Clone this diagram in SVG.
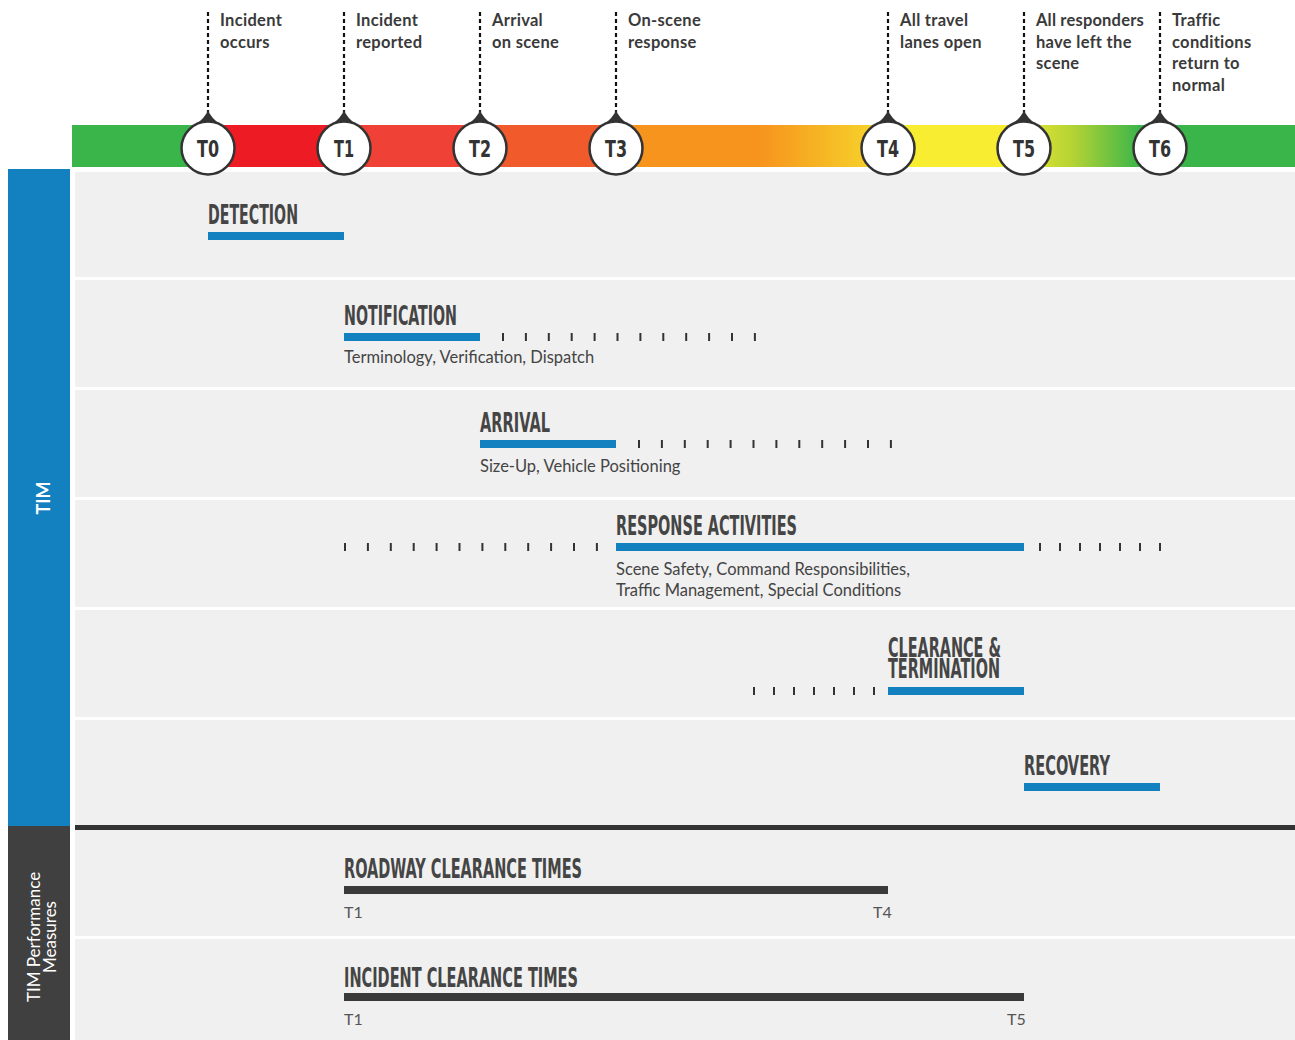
<svg xmlns="http://www.w3.org/2000/svg" width="1295" height="1040" viewBox="0 0 1295 1040">
<defs>
<linearGradient id="bar" gradientUnits="userSpaceOnUse" x1="72" y1="0" x2="1295" y2="0">
<stop offset="0" stop-color="#3ab54a"/>
<stop offset="0.1112" stop-color="#3ab54a"/>
<stop offset="0.1112" stop-color="#ed1c24"/>
<stop offset="0.2224" stop-color="#ed1c24"/>
<stop offset="0.2224" stop-color="#ef4136"/>
<stop offset="0.3336" stop-color="#ef4136"/>
<stop offset="0.3336" stop-color="#f15a2b"/>
<stop offset="0.4448" stop-color="#f15a2b"/>
<stop offset="0.4448" stop-color="#f7941d"/>
<stop offset="0.5626" stop-color="#f7941d"/>
<stop offset="0.6525" stop-color="#f6d02a"/>
<stop offset="0.6680" stop-color="#f9ed32"/>
<stop offset="0.7630" stop-color="#f9ed32"/>
<stop offset="0.8180" stop-color="#b5d334"/>
<stop offset="0.8733" stop-color="#3ab54a"/>
<stop offset="1" stop-color="#3ab54a"/>
</linearGradient>
<style>
.lbl{font-family:Lato,"Liberation Sans",sans-serif;font-weight:bold;font-size:16.5px;letter-spacing:0.3px;fill:#3a3a3a}
.dash{stroke:#111;stroke-width:2.2;stroke-dasharray:4 3;fill:none}
.pin{fill:#333}
.ring{fill:#fff;stroke:#333;stroke-width:2.5}
.tn{font-family:"DejaVu Sans Condensed","DejaVu Sans",sans-serif;font-stretch:condensed;font-weight:bold;font-size:23px;fill:#333;text-anchor:middle}
.panel{fill:#f0f0f0}
.head{font-family:"DejaVu Sans Condensed","DejaVu Sans",sans-serif;font-stretch:condensed;font-weight:bold;font-size:26px;fill:#454545}
.sub{font-family:Lato,"Liberation Sans",sans-serif;font-size:16.5px;fill:#444}
.blue{fill:#1380c0}
.dark{fill:#3a3a3a}
.tick{stroke:#333;stroke-width:8;stroke-dasharray:2 20.9;fill:none}
.tick2{stroke:#333;stroke-width:8;stroke-dasharray:2 18;fill:none}
.side{font-family:Lato,"Liberation Sans",sans-serif;fill:#fff;text-anchor:middle}
.tl{font-family:Lato,"Liberation Sans",sans-serif;font-size:16px;fill:#555}
</style>
</defs>
<rect width="1295" height="1040" fill="#fff"/>

<!-- background panels -->
<g id="panels">
<rect class="panel" x="75" y="172" width="1220" height="105"/>
<rect class="panel" x="75" y="280" width="1220" height="107"/>
<rect class="panel" x="75" y="390" width="1220" height="107"/>
<rect class="panel" x="75" y="500" width="1220" height="107"/>
<rect class="panel" x="75" y="610" width="1220" height="107"/>
<rect class="panel" x="75" y="720" width="1220" height="105"/>
<rect x="75" y="825" width="1220" height="5" fill="#333"/>
<rect class="panel" x="75" y="830" width="1220" height="106"/>
<rect class="panel" x="75" y="939" width="1220" height="101"/>
</g>

<!-- side bars -->
<g id="side-tim">
<rect class="blue" x="8" y="169" width="62" height="657"/>
<text class="side" font-size="18" font-weight="bold" transform="translate(49.5,498) rotate(-90)">TIM</text>
</g>
<g id="side-measures">
<rect x="8" y="826" width="62" height="214" fill="#404040"/>
<text class="side" font-size="17" transform="translate(39.5,937) rotate(-90)">TIM Performance</text>
<text class="side" font-size="17" transform="translate(56,937) rotate(-90)">Measures</text>
</g>

<!-- gradient timeline bar -->
<rect id="timeline" x="72" y="125" width="1223" height="42" fill="url(#bar)"/>

<!-- connectors: dotted leader lines -->
<g id="connectors">
<line class="dash" x1="208" y1="12" x2="208" y2="112"/>
<line class="dash" x1="344" y1="12" x2="344" y2="112"/>
<line class="dash" x1="480" y1="12" x2="480" y2="112"/>
<line class="dash" x1="616" y1="12" x2="616" y2="112"/>
<line class="dash" x1="888" y1="12" x2="888" y2="112"/>
<line class="dash" x1="1024" y1="12" x2="1024" y2="112"/>
<line class="dash" x1="1160" y1="12" x2="1160" y2="112"/>
</g>

<!-- markers -->
<g id="T0">
<path class="pin" d="M208,110 Q205,118 196,124 L220,124 Q211,118 208,110Z"/>
<circle class="ring" cx="208" cy="148" r="26.5"/>
<text class="tn" x="208" y="157" textLength="22" lengthAdjust="spacingAndGlyphs">T0</text>
<text class="lbl" x="220" y="26">Incident</text>
<text class="lbl" x="220" y="47.5">occurs</text>
</g>
<g id="T1">
<path class="pin" d="M344,110 Q341,118 332,124 L356,124 Q347,118 344,110Z"/>
<circle class="ring" cx="344" cy="148" r="26.5"/>
<text class="tn" x="344" y="157" textLength="20" lengthAdjust="spacingAndGlyphs">T1</text>
<text class="lbl" x="356" y="26">Incident</text>
<text class="lbl" x="356" y="47.5">reported</text>
</g>
<g id="T2">
<path class="pin" d="M480,110 Q477,118 468,124 L492,124 Q483,118 480,110Z"/>
<circle class="ring" cx="480" cy="148" r="26.5"/>
<text class="tn" x="480" y="157" textLength="22" lengthAdjust="spacingAndGlyphs">T2</text>
<text class="lbl" x="492" y="26">Arrival</text>
<text class="lbl" x="492" y="47.5">on scene</text>
</g>
<g id="T3">
<path class="pin" d="M616,110 Q613,118 604,124 L628,124 Q619,118 616,110Z"/>
<circle class="ring" cx="616" cy="148" r="26.5"/>
<text class="tn" x="616" y="157" textLength="22" lengthAdjust="spacingAndGlyphs">T3</text>
<text class="lbl" x="628" y="26">On-scene</text>
<text class="lbl" x="628" y="47.5">response</text>
</g>
<g id="T4">
<path class="pin" d="M888,110 Q885,118 876,124 L900,124 Q891,118 888,110Z"/>
<circle class="ring" cx="888" cy="148" r="26.5"/>
<text class="tn" x="888" y="157" textLength="22" lengthAdjust="spacingAndGlyphs">T4</text>
<text class="lbl" x="900" y="26">All travel</text>
<text class="lbl" x="900" y="47.5">lanes open</text>
</g>
<g id="T5">
<path class="pin" d="M1024,110 Q1021,118 1012,124 L1036,124 Q1027,118 1024,110Z"/>
<circle class="ring" cx="1024" cy="148" r="26.5"/>
<text class="tn" x="1024" y="157" textLength="22" lengthAdjust="spacingAndGlyphs">T5</text>
<text class="lbl" x="1036" y="26" textLength="108">All responders</text>
<text class="lbl" x="1036" y="47.5">have left the</text>
<text class="lbl" x="1036" y="69">scene</text>
</g>
<g id="T6">
<path class="pin" d="M1160,110 Q1157,118 1148,124 L1172,124 Q1163,118 1160,110Z"/>
<circle class="ring" cx="1160" cy="148" r="26.5"/>
<text class="tn" x="1160" y="157" textLength="22" lengthAdjust="spacingAndGlyphs">T6</text>
<text class="lbl" x="1172" y="26">Traffic</text>
<text class="lbl" x="1172" y="47.5">conditions</text>
<text class="lbl" x="1172" y="69">return to</text>
<text class="lbl" x="1172" y="90.5">normal</text>
</g>

<!-- rows -->
<g id="detection">
<text class="head" x="208" y="224" textLength="90" lengthAdjust="spacingAndGlyphs">DETECTION</text>
<rect class="blue" x="208" y="232" width="136" height="8"/>
</g>
<g id="notification">
<text class="head" x="344" y="325" textLength="113" lengthAdjust="spacingAndGlyphs">NOTIFICATION</text>
<rect class="blue" x="344" y="333" width="136" height="8"/>
<line class="tick" x1="502" y1="337" x2="756" y2="337"/>
<text class="sub" x="344" y="363">Terminology, Verification, Dispatch</text>
</g>
<g id="arrival">
<text class="head" x="480" y="432" textLength="70" lengthAdjust="spacingAndGlyphs">ARRIVAL</text>
<rect class="blue" x="480" y="440" width="136" height="8"/>
<line class="tick" x1="638" y1="444" x2="892" y2="444"/>
<text class="sub" x="480" y="472">Size-Up, Vehicle Positioning</text>
</g>
<g id="response">
<text class="head" x="616" y="535" textLength="181" lengthAdjust="spacingAndGlyphs">RESPONSE ACTIVITIES</text>
<line class="tick" x1="344" y1="547" x2="598" y2="547"/>
<rect class="blue" x="616" y="543" width="408" height="8"/>
<line class="tick2" x1="1039" y1="547" x2="1162" y2="547"/>
<text class="sub" x="616" y="575">Scene Safety, Command Responsibilities,</text>
<text class="sub" x="616" y="596">Traffic Management, Special Conditions</text>
</g>
<g id="clearance">
<text class="head" x="888" y="657" font-size="24.5" textLength="113" lengthAdjust="spacingAndGlyphs">CLEARANCE &amp;</text>
<text class="head" x="888" y="678" font-size="24.5" textLength="112" lengthAdjust="spacingAndGlyphs">TERMINATION</text>
<line class="tick2" x1="753" y1="691" x2="876" y2="691"/>
<rect class="blue" x="888" y="687" width="136" height="8"/>
</g>
<g id="recovery">
<text class="head" x="1024" y="775" textLength="86" lengthAdjust="spacingAndGlyphs">RECOVERY</text>
<rect class="blue" x="1024" y="783" width="136" height="8"/>
</g>
<g id="roadway">
<text class="head" x="344" y="878" textLength="238" lengthAdjust="spacingAndGlyphs">ROADWAY CLEARANCE TIMES</text>
<rect class="dark" x="344" y="886" width="544" height="8"/>
<text class="tl" x="344" y="918">T1</text>
<text class="tl" x="873" y="918">T4</text>
</g>
<g id="incident">
<text class="head" x="344" y="987" textLength="234" lengthAdjust="spacingAndGlyphs">INCIDENT CLEARANCE TIMES</text>
<rect class="dark" x="344" y="993" width="680" height="8"/>
<text class="tl" x="344" y="1025">T1</text>
<text class="tl" x="1007" y="1025">T5</text>
</g>
</svg>
